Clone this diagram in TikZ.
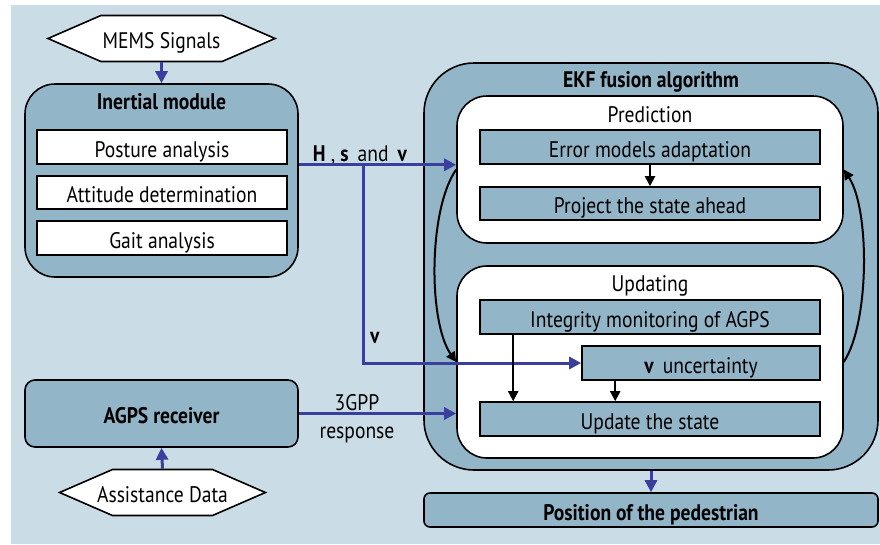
\documentclass[tikz,border=0pt]{standalone}
\usepackage{fontspec}
\setmainfont[FakeStretch=0.87]{PT Sans}
\usetikzlibrary{shapes.symbols, arrows.meta}
\definecolor{bgblue}{HTML}{CADDE6}
\definecolor{boxblue}{HTML}{93B5C8}
\definecolor{arrowblue}{HTML}{3A3F9E}

\begin{document}
\begin{tikzpicture}[x=1pt, y=-1pt,
  every node/.style={inner sep=0pt, text height=20pt, text depth=0pt, font=\fontsize{22.5}{26}\selectfont},
  hexa/.style={draw, fill=white, line width=1.6pt, shape=signal, signal to=west and east, signal pointer angle=47, minimum height=46pt},
  module/.style={draw, fill=boxblue, line width=1.6pt, rounded corners=30pt},
  panel/.style={draw, fill=white, line width=1.6pt, rounded corners=30pt, minimum width=386pt},
  item/.style={draw, fill=white, line width=1.6pt, minimum width=250pt, minimum height=34pt},
  stepbox/.style={draw, fill=boxblue, line width=1.6pt, minimum width=340pt, minimum height=34pt},
  title/.style={draw=none, fill=none, font=\fontsize{22.5}{26}\selectfont\bfseries},
  blueline/.style={draw=arrowblue, line width=3pt, -{Triangle[length=12pt,width=12pt]}},
  blackline/.style={draw=black, line width=2pt, -{Triangle[length=10pt,width=10pt]}}]
  \useasboundingbox (0,0) rectangle (880,544);
  \fill[bgblue] (11,5) rectangle (880,544);

  \node[hexa, minimum width=227pt] (mems) at (161.5,38.5) {\makebox[118pt]{MEMS Signals}};
  \node[module, minimum width=273pt, minimum height=193pt,
    label={[title, anchor=north, yshift=-6pt]north:Inertial module}] (inertial) at (161.5,180.5) {};
  \node[item] (posture) at (162,147) {Posture analysis};
  \node[item, minimum height=33pt] (attitude) at (162,192.5) {Attitude determination};
  \node[item] (gait) at (162,238) {Gait analysis};

  \node[module, rounded corners=10pt, minimum width=273pt, minimum height=67pt, font=\fontsize{22.5}{26}\selectfont\bfseries] (agps) at (161.5,413.5) {AGPS receiver};
  \node[hexa, minimum width=200pt] (assist) at (162.5,492.5) {\makebox[100pt]{Assistance Data}};

  \node[module, rounded corners=50pt, minimum width=454pt, minimum height=407pt,
    label={[title, anchor=north, yshift=-5pt]north:EKF fusion algorithm}] (ekf) at (651,266.5) {};
  \node[panel, minimum height=147pt,
    label={[anchor=north, yshift=-7pt]north:Prediction}] (pred) at (650,169.5) {};
  \node[stepbox] (errm) at (650,147) {Error models adaptation};
  \node[stepbox, minimum height=33pt] (proj) at (650,203.5) {Project the state ahead};
  \node[panel, minimum height=192pt,
    label={[anchor=north, yshift=-6pt]north:Updating}] (upd) at (650,362) {};
  \node[stepbox] (integ) at (650,317) {Integrity monitoring of AGPS};
  \node[stepbox, minimum width=238pt] (vunc) at (701,363) {\textbf{v}\, uncertainty};
  \node[stepbox] (upst) at (650,419) {Update the state};
  \node[module, rounded corners=6pt, minimum width=454pt, minimum height=34pt, font=\fontsize{22.5}{26}\selectfont\bfseries] (pos) at (651,510) {Position of the pedestrian};

  \coordinate (split) at (363,164);
  \node (hsv) at (360,151) {\textbf{H} , \textbf{s}\, and \,\textbf{v}};
  \node (vlab) at (375,333) {\textbf{v}};
  \node (gpp) at (357,400) {3GPP};
  \node (resp) at (357,428) {response};

  \draw[blueline] (mems.south) -- (inertial.north);
  \draw[blueline] (posture.south -| inertial.east) -- (posture.south -| pred.west);
  \draw[blueline] (split) |- (vunc.west);
  \draw[blueline] (agps.east) -- (agps.east -| upd.west);
  \draw[blueline] (assist.north) -- (agps.south);
  \draw[blueline] (ekf.south) -- (pos.north);

  \draw[blackline] (errm.south) -- (proj.north);
  \draw[blackline] ([xshift=34pt]integ.south west) -- ([xshift=34pt]upst.north west);
  \draw[blackline] ([xshift=34pt]vunc.south west) -- ([xshift=34pt]vunc.south west |- upst.north);
  \draw[blackline] (pred.west) .. controls +(-28,40) and +(-28,-40) .. (upd.west);
  \draw[blackline] (upd.east) .. controls +(26,-40) and +(26,40) .. (pred.east);
\end{tikzpicture}
\end{document}
